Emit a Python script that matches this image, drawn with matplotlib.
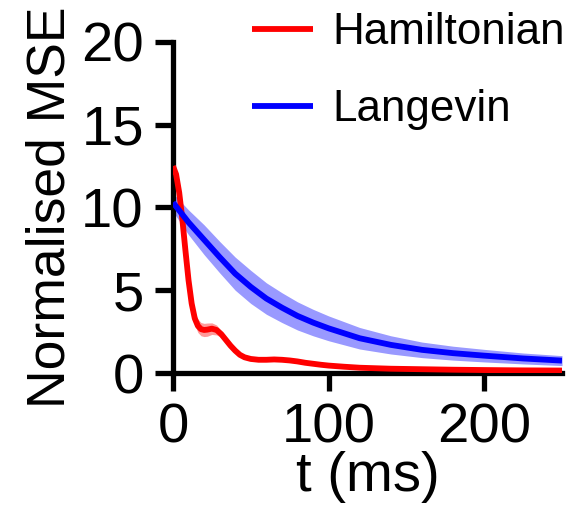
import matplotlib
matplotlib.use("Agg")
import matplotlib.pyplot as plt
import numpy as np

plt.rcParams["font.family"] = ["Liberation Sans", "DejaVu Sans"]

# decoding error over time, mean and spread for each sampler
t_ham = [0, 2, 4, 6, 8, 10, 12, 14, 16, 18, 20, 22, 25, 28, 31, 34, 37, 40, 43, 46,
         50, 55, 60, 65, 70, 75, 80, 85, 90, 95, 100, 110, 120, 140, 160, 180, 200, 225, 250]
mse_ham = [12.5, 12.0, 10.9, 9.3, 7.4, 5.6, 4.2, 3.3, 2.85, 2.65, 2.6, 2.62, 2.68, 2.6, 2.35,
           2.0, 1.65, 1.35, 1.1, 0.95, 0.85, 0.8, 0.8, 0.82, 0.8, 0.76, 0.7, 0.62, 0.56, 0.5,
           0.45, 0.38, 0.32, 0.26, 0.23, 0.2, 0.18, 0.16, 0.15]
err_ham = [0.35, 0.35, 0.35, 0.35, 0.35, 0.35, 0.35, 0.4, 0.4, 0.4, 0.4, 0.4, 0.35, 0.3, 0.2,
           0.15, 0.1, 0.1, 0.08, 0.08, 0.06, 0.06, 0.06, 0.06, 0.06, 0.05, 0.05, 0.05, 0.05, 0.05,
           0.04, 0.04, 0.04, 0.03, 0.03, 0.03, 0.03, 0.03, 0.03]

t_lan = [0, 10, 20, 30, 40, 50, 60, 70, 80, 90, 100, 120, 140, 160, 180, 200, 225, 250]
mse_lan = [10.3, 9.1, 8.05, 7.0, 6.0, 5.2, 4.5, 3.95, 3.45, 3.05, 2.7, 2.1, 1.7, 1.4, 1.2, 1.05, 0.88, 0.75]
err_lan = [0.55, 0.75, 0.9, 0.95, 1.0, 1.0, 0.95, 0.9, 0.85, 0.8, 0.75, 0.65, 0.55, 0.47, 0.42, 0.38, 0.33, 0.3]

fig = plt.figure(figsize=(5.77, 5.11), dpi=100)
ax = fig.add_axes([0.2998, 0.270, 0.6742, 0.648])

for t, m, e, col, lab in [(t_ham, mse_ham, err_ham, "#ff0000", "Hamiltonian"),
                          (t_lan, mse_lan, err_lan, "#0000ff", "Langevin")]:
    m = np.array(m); e = np.array(e)
    ax.fill_between(t, m - e, m + e, color=col, alpha=0.4, lw=0, zorder=2)
    ax.plot(t, m, color=col, lw=4.2, label=lab, zorder=3, solid_capstyle="butt")

ax.set_xlim(0, 250); ax.set_ylim(0, 20)
ax.set_xticks([0, 100, 200]); ax.set_yticks([0, 5, 10, 15, 20])
for s in ["top", "right"]:
    ax.spines[s].set_visible(False)
for s in ["left", "bottom"]:
    ax.spines[s].set_linewidth(3.8)
ax.tick_params(width=3.8, length=13, labelsize=40.5, pad=8)
ax.set_xlabel("t (ms)", fontsize=40.5, labelpad=-2)
ax.set_ylabel("Normalised MSE", fontsize=38.5, labelpad=4)

fig.legend(loc="upper right", bbox_to_anchor=(1.048, 1.054), frameon=False, fontsize=31.7,
           handlelength=1.39, handletextpad=0.45, labelspacing=0.82)

fig.savefig("out.png", dpi=100)
